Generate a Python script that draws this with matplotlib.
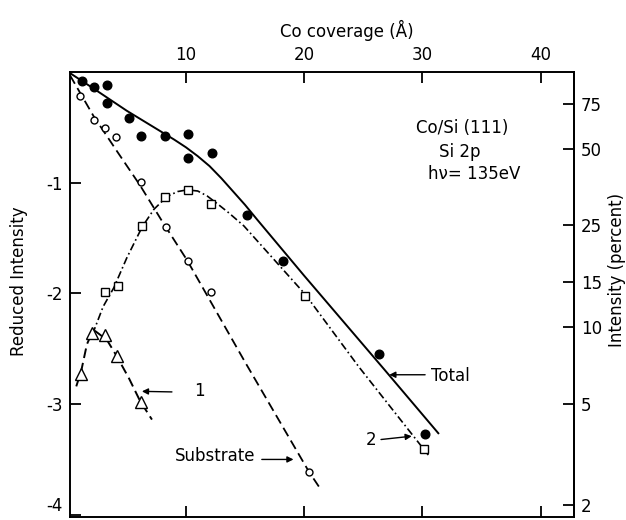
import numpy as np
import matplotlib
matplotlib.use('Agg')
import matplotlib.pyplot as plt

plt.rcParams['font.family'] = ['DejaVu Sans']
plt.rcParams['axes.unicode_minus'] = False
plt.rcParams['lines.scale_dashes'] = False

# ---------------- data ----------------
# measured points: x = Co coverage (Å), y = reduced intensity ln(I/I0)
total_x = [1.2, 2.2, 3.3, 3.3, 5.15, 6.2, 8.25, 10.2, 10.2, 12.2, 15.2, 18.2, 26.3, 30.2]
total_y = [-0.08, -0.14, -0.12, -0.28, -0.42, -0.58, -0.58, -0.56, -0.78, -0.73, -1.29, -1.71, -2.55, -3.27]

sub_x = [1.07, 2.2, 3.18, 4.08, 6.2, 8.3, 10.2, 12.1, 20.4]
sub_y = [-0.22, -0.43, -0.51, -0.59, -0.99, -1.40, -1.71, -1.99, -3.61]

sq_x = [3.18, 4.3, 6.28, 8.25, 10.2, 12.1, 20.1, 30.1]
sq_y = [-1.99, -1.93, -1.39, -1.13, -1.07, -1.19, -2.02, -3.41]

tri_x = [1.15, 2.1, 3.12, 4.17, 6.22]
tri_y = [-2.73, -2.36, -2.38, -2.57, -2.98]

# drawn curves
total_fit_x = [0.2, 2.2, 5.0, 8.0, 9.0, 10.0, 11.0, 12.0, 13.0, 14.0, 15.0, 16.0, 20.0, 26.8, 31.4]
total_fit_y = [-0.01, -0.15, -0.35, -0.545, -0.61, -0.68, -0.76, -0.85, -0.96, -1.08, -1.20, -1.33, -1.84, -2.69, -3.27]

sub_fit_x = [0.2, 2.2, 4.2, 6.1, 8.0, 10.1, 15.0, 20.4, 21.4]
sub_fit_y = [-0.03, -0.40, -0.72, -1.02, -1.35, -1.70, -2.62, -3.61, -3.77]

c2_fit_x = [2.1, 3.0, 3.9, 5.0, 6.3, 7.3, 8.4, 9.3, 10.1, 11.0, 11.8, 12.6, 13.6, 14.9, 20.1, 24.6, 30.5]
c2_fit_y = [-2.37, -2.12, -1.95, -1.68, -1.40, -1.24, -1.125, -1.08, -1.065, -1.075, -1.12, -1.185, -1.27, -1.39, -2.01, -2.66, -3.46]

c1_fit_x = [0.73, 1.15, 1.63, 2.0, 2.33, 3.32, 4.17, 5.2, 6.14, 7.13]
c1_fit_y = [-2.84, -2.70, -2.46, -2.37, -2.34, -2.42, -2.57, -2.77, -2.975, -3.14]

x_ticks = [10, 20, 30, 40]
x_tick_labels = ['10', '20', '30', '40']
y_ticks = [-4, -3, -2, -1]
y_tick_labels = ['-4', '-3', '-2', '-1']
pct_ticks = [2, 5, 10, 15, 25, 50, 75]
pct_tick_labels = ['2', '5', '10', '15', '25', '50', '75']

# ---------------- figure ----------------
fig = plt.figure(figsize=(6.26, 5.2), dpi=100)
ax = fig.add_axes([70/626, 3/520, 504/626, 445/520])
ax.set_xlim(0.2, 42.82)
ax.set_ylim(-4.02, 0)

k = 'black'
ax.plot(total_fit_x, total_fit_y, color=k, lw=1.4, solid_capstyle='butt')
ax.plot(sub_fit_x, sub_fit_y, color=k, lw=1.3, dashes=(7, 3.6))
ax.plot(c2_fit_x, c2_fit_y, color=k, lw=1.2, dashes=(5.5, 2.2, 1.2, 2.2))
ax.plot(c1_fit_x, c1_fit_y, color=k, lw=1.4, dashes=(7, 3.6))

ax.plot(total_x, total_y, 'o', ms=6.2, mfc=k, mec=k, ls='none')
ax.plot(sub_x, sub_y, 'o', ms=5, mfc='white', mec=k, mew=1.0, ls='none')
ax.plot(sq_x, sq_y, 's', ms=6, mfc='white', mec=k, mew=1.0, ls='none')
ax.plot(tri_x, tri_y, '^', ms=8.5, mfc='white', mec=k, mew=1.0, ls='none')

# ticks
ax.set_xticks(x_ticks)
ax.set_xticklabels(x_tick_labels)
ax.xaxis.set_ticks_position('both')
ax.tick_params(axis='x', direction='in', length=8, width=1.3, pad=6,
               labelsize=12, labeltop=True, labelbottom=False)
ax.set_yticks(y_ticks)
ax.set_yticklabels(y_tick_labels)
ax.tick_params(axis='y', direction='in', length=8, width=1.3, pad=5,
               labelsize=12, left=True, right=False)
# keep the lowest label inside the figure
ax.get_yticklabels()[0].set_va('bottom')
for s in ax.spines.values():
    s.set_linewidth(1.4)


def to_pct(y):
    return 100.0 * np.exp(y)


def to_red(p):
    return np.log(np.clip(p, 1e-9, None) / 100.0)


secax = ax.secondary_yaxis('right', functions=(to_pct, to_red))
secax.set_yticks(pct_ticks)
secax.set_yticklabels(pct_tick_labels)
secax.tick_params(axis='y', direction='in', length=8, width=1.3, pad=5, labelsize=12)
secax.spines['right'].set_linewidth(1.4)

# axis labels
ax.set_xlabel('Co coverage (Å)', fontsize=12)
ax.xaxis.set_label_position('top')
ax.xaxis.set_label_coords(0.55, 1.094)
ax.xaxis.label.set_va('center')

ax.set_ylabel('Reduced Intensity', fontsize=12)
ax.yaxis.set_label_coords(-0.101, 0.53)
ax.yaxis.label.set_va('center')

ax.text(1.085, 0.555, 'Intensity (percent)', fontsize=12, rotation=90,
        ha='center', va='center', transform=ax.transAxes)

# annotations
ax.text(33.4, -0.505, 'Co/Si (111)', fontsize=12, ha='center', va='center')
ax.text(33.2, -0.72, 'Si 2p', fontsize=12, ha='center', va='center')
ax.text(34.4, -0.92, 'hν= 135eV', fontsize=12, ha='center', va='center')

arrow = dict(arrowstyle='-|>', color=k, lw=1.0, mutation_scale=9, shrinkA=0, shrinkB=0)
ax.annotate('', xy=(27.2, -2.735), xytext=(30.23, -2.735), arrowprops=arrow)
ax.text(32.4, -2.75, 'Total', fontsize=12, ha='center', va='center')

ax.annotate('', xy=(29.1, -3.29), xytext=(26.5, -3.32), arrowprops=arrow)
ax.text(25.66, -3.32, '2', fontsize=12, ha='center', va='center')

ax.annotate('', xy=(6.28, -2.885), xytext=(8.82, -2.89), arrowprops=arrow)
ax.text(11.15, -2.885, '1', fontsize=12, ha='center', va='center')

ax.annotate('', xy=(19.1, -3.50), xytext=(16.42, -3.50), arrowprops=arrow)
ax.text(12.48, -3.47, 'Substrate', fontsize=12, ha='center', va='center')

fig.savefig('out.png', dpi=100)
